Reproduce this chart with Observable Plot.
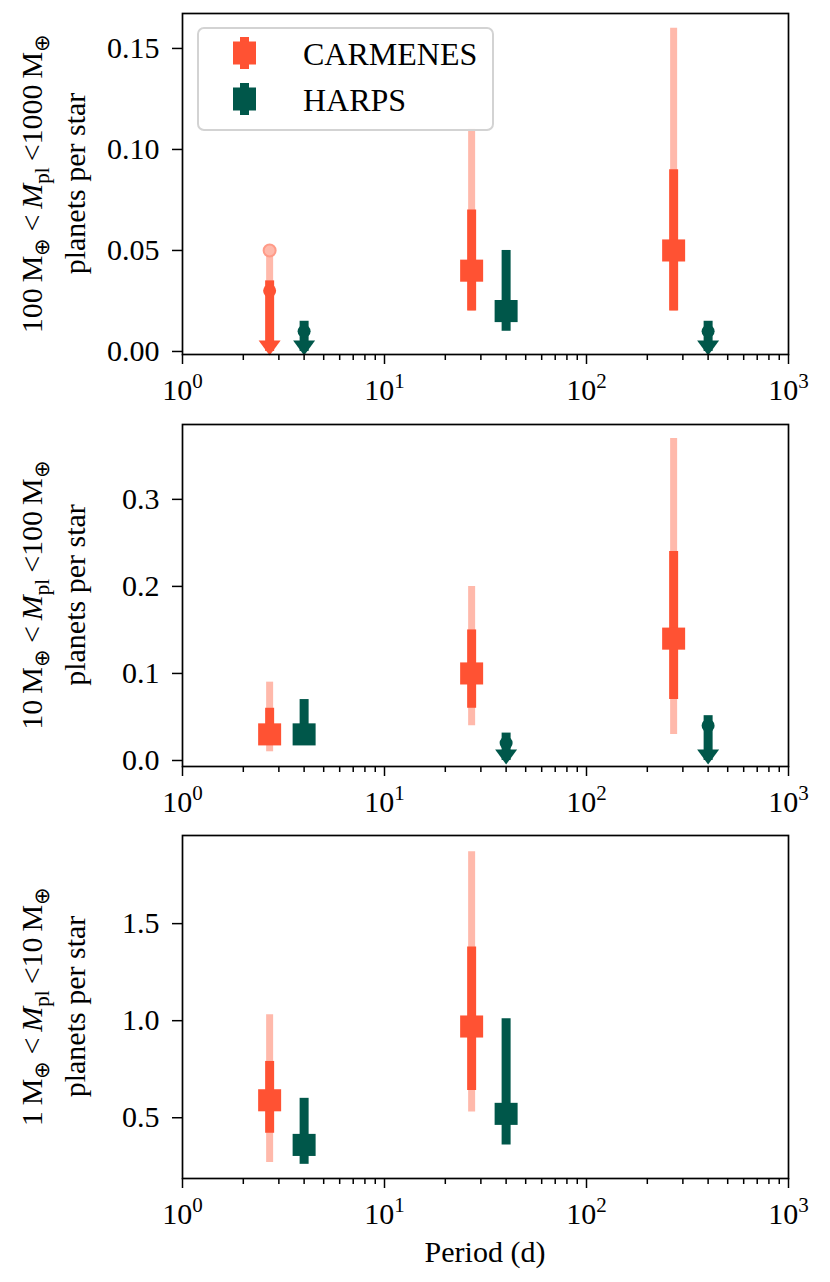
<!DOCTYPE html>
<html><head><meta charset="utf-8">
<script src="https://cdn.jsdelivr.net/npm/d3@7"></script>
<script src="https://cdn.jsdelivr.net/npm/@observablehq/plot@0.6"></script>
<style>
body{margin:0;background:#fff;}
#chart svg{display:block;}
</style></head><body><div id="chart"></div>
<script>
// ---------- data ----------
const seriesNames = ["CARMENES", "HARPS"];
const seriesColors = ["#ff5233", "#00574a"];
const carmPale = "#ffb9ab";

// 100 M⊕ < M_pl < 1000 M⊕
const carmGiant = [
  {period: 2.7, upper: 0.03, upper2: 0.05},
  {period: 27, value: 0.04, lo1: 0.02, hi1: 0.07, lo2: 0.02, hi2: 0.11},
  {period: 270, value: 0.05, lo1: 0.02, hi1: 0.09, lo2: 0.02, hi2: 0.16}
];
const harpsGiant = [
  {period: 4, upper: 0.01},
  {period: 40, value: 0.02, lo1: 0.01, hi1: 0.05},
  {period: 400, upper: 0.01}
];
// 10 M⊕ < M_pl < 100 M⊕
const carmNeptune = [
  {period: 2.7, value: 0.03, lo1: 0.02, hi1: 0.06, lo2: 0.01, hi2: 0.09},
  {period: 27, value: 0.10, lo1: 0.06, hi1: 0.15, lo2: 0.04, hi2: 0.20},
  {period: 270, value: 0.14, lo1: 0.07, hi1: 0.24, lo2: 0.03, hi2: 0.37}
];
const harpsNeptune = [
  {period: 4, value: 0.03, lo1: 0.02, hi1: 0.07},
  {period: 40, upper: 0.02},
  {period: 400, upper: 0.04}
];
// 1 M⊕ < M_pl < 10 M⊕
const carmEarth = [
  {period: 2.7, value: 0.59, lo1: 0.42, hi1: 0.79, lo2: 0.27, hi2: 1.03},
  {period: 27, value: 0.97, lo1: 0.64, hi1: 1.38, lo2: 0.53, hi2: 1.87}
];
const harpsEarth = [
  {period: 4, value: 0.36, lo1: 0.26, hi1: 0.60},
  {period: 40, value: 0.52, lo1: 0.36, hi1: 1.01}
];

const massLow = ["100", "10", "1"];
const massHigh = ["1000", "100", "10"];
const yDomains = [[-0.0015, 0.1673], [-0.0069, 0.386], [0.187, 1.954]];
const yTicks = [[0, 0.05, 0.10, 0.15], [0, 0.1, 0.2, 0.3], [0.5, 1.0, 1.5]];
const yFormats = [".2f", ".1f", ".1f"];
const xMajor = [1, 10, 100, 1000];
const xLabel = "Period (d)";
const yLabel2 = "planets per star";

// ---------- layout ----------
const W = 830;
const layout = [
  {h: 414, mt: 13, mb: 60},
  {h: 412, mt: 10, mb: 60},
  {h: 456, mt: 9, mb: 104}
];
const FONT = "'Liberation Serif', 'Times New Roman', serif";

const squareSym = {draw(ctx, size) { const r = Math.sqrt(size / Math.PI); ctx.moveTo(-r, -r * 0.96); ctx.lineTo(r, -r * 0.96); ctx.lineTo(r, r * 0.96); ctx.lineTo(-r, r * 0.96); ctx.closePath(); }};
const triSym = {draw(ctx, size) { const r = Math.sqrt(size / Math.PI); const h = r * 0.68; ctx.moveTo(-r, -h); ctx.lineTo(r, -h); ctx.lineTo(0, h); ctx.closePath(); }};

function seriesMarks(data, color, pale) {
  const est = data.filter(d => d.value != null);
  const lim = data.filter(d => d.upper != null);
  const lim2 = data.filter(d => d.upper2 != null);
  const m = [];
  if (pale) {
    m.push(Plot.ruleX(est, {x: "period", y1: "lo2", y2: "hi2", stroke: pale, strokeWidth: 7}));
    m.push(Plot.ruleX(lim2, {x: "period", y1: "upper", y2: "upper2", stroke: pale, strokeWidth: 7}));
    m.push(Plot.dot(lim2, {x: "period", y: "upper2", r: 6, fill: pale, stroke: "#ff9b88", strokeWidth: 2}));
  }
  m.push(Plot.ruleX(est, {x: "period", y1: "lo1", y2: "hi1", stroke: color, strokeWidth: 9}));
  m.push(Plot.dot(est, {x: "period", y: "value", symbol: squareSym, r: 11.5, fill: color}));
  m.push(Plot.ruleX(lim, {x: "period", y1: 0, y2: "upper", stroke: color, strokeWidth: 9, insetBottom: 10}));
  m.push(Plot.dot(lim, {x: "period", y: "upper", r: 6.5, fill: color}));
  m.push(Plot.dot(lim, {x: "period", y: 0, symbol: triSym, r: 11, fill: color, dy: -3.5}));
  return m;
}

const panels = [[carmGiant, harpsGiant], [carmNeptune, harpsNeptune], [carmEarth, harpsEarth]];
const minorTicks = d3.scaleLog().domain([1, 1000]).ticks().filter(t => !xMajor.includes(t));

const container = document.getElementById("chart");

panels.forEach(([carm, harps], i) => {
  const L = layout[i];
  const svg = Plot.plot({
    width: W, height: L.h,
    marginLeft: 182, marginRight: 42, marginTop: L.mt, marginBottom: L.mb,
    style: {fontFamily: FONT, fontSize: "30px", color: "black", background: "white", overflow: "visible"},
    x: {type: "log", domain: [1, 1000]},
    y: {domain: yDomains[i]},
    marks: [
      ...seriesMarks(carm, seriesColors[0], carmPale),
      ...seriesMarks(harps, seriesColors[1], null),
      Plot.axisX(minorTicks, {tickSize: 6, strokeWidth: 1.5, tickFormat: () => "", label: null}),
      Plot.axisX(xMajor, {tickSize: 10, tickPadding: 14, strokeWidth: 1.5, fontSize: 30, tickFormat: d => String(Math.round(Math.log10(d))), label: null}),
      Plot.axisY(yTicks[i], {tickSize: 10, tickPadding: 13, strokeWidth: 1.5, fontSize: 30, tickFormat: d3.format(yFormats[i]), label: null}),
      Plot.frame({stroke: "black", strokeWidth: 1.7})
    ]
  });
  const s = d3.select(svg);
  // superscript exponents on x tick labels
  s.selectAll('g[aria-label="x-axis tick label"] text').each(function() {
    const e = this.textContent;
    if (!e) return;
    const t = d3.select(this);
    t.text("10");
    t.append("tspan").attr("dy", "-12").attr("font-size", "21px").text(e);
  });
  // y label
  const cy = (L.mt + (L.h - L.mb)) / 2;
  const g = s.append("g").attr("font-family", FONT).attr("fill", "black");
  const t1 = g.append("text").attr("text-anchor", "middle").attr("font-size", "30px")
    .attr("transform", `translate(42,${cy}) rotate(-90)`);
  const sub = (txt) => { t1.append("tspan").attr("dy", 7).attr("font-size", "21px").text(txt); };
  const back = (txt) => { t1.append("tspan").attr("dy", -7).text(txt); };
  t1.append("tspan").text(massLow[i] + "\u2009M");
  sub("\u2295");
  back("\u2009<\u2009");
  t1.append("tspan").attr("font-style", "italic").text("M");
  sub("pl");
  back("\u2009<" + massHigh[i] + "\u2009M");
  sub("\u2295");
  g.append("text").attr("text-anchor", "middle").attr("font-size", "30px")
    .attr("transform", `translate(85,${cy}) rotate(-90)`).text(yLabel2);
  if (i === 2) {
    g.append("text").attr("text-anchor", "middle").attr("font-size", "30px")
      .attr("x", 485).attr("y", 436).text(xLabel);
  }
  if (i === 0) {
    const lg = s.append("g").attr("font-family", FONT);
    lg.append("rect").attr("x", 198).attr("y", 28).attr("width", 295).attr("height", 102)
      .attr("rx", 6).attr("fill", "white").attr("fill-opacity", 0.8)
      .attr("stroke", "#d3d3d3").attr("stroke-width", 2);
    seriesNames.forEach((name, k) => {
      const yc = 53 + k * 46;
      lg.append("line").attr("x1", 244.5).attr("x2", 244.5).attr("y1", yc - 16).attr("y2", yc + 16)
        .attr("stroke", seriesColors[k]).attr("stroke-width", 9);
      lg.append("rect").attr("x", 233).attr("y", yc - 11.5).attr("width", 23).attr("height", 23)
        .attr("fill", seriesColors[k]);
      lg.append("text").attr("x", 303).attr("y", yc + 12).attr("text-anchor", "start")
        .attr("font-size", "32px").attr("fill", "black").text(name);
    });
  }
  container.appendChild(svg);
});
</script>
</body></html>
